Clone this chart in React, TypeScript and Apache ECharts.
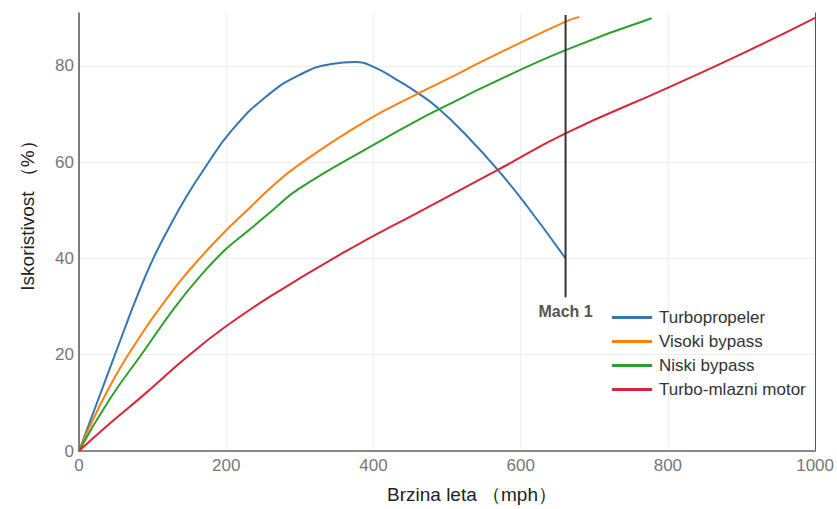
import React, { useEffect, useRef } from "react";
import * as echarts from "echarts";

// Speeds (mph) and efficiencies (%)
const SPEED_TURBOPROP = [0, 41, 64, 77, 100, 123, 145, 170, 208, 254, 299, 343, 375, 400, 434, 461, 488, 528, 569, 609, 661];
const EFF_TURBOPROP = [0, 16.8, 26.2, 31.4, 39.7, 46.6, 52.6, 58.6, 66.7, 73.6, 78.1, 80.4, 80.8, 79.8, 76.9, 74.3, 71.2, 65.3, 58.4, 50.8, 40];

const SPEED_HIGH_BYPASS = [0, 41, 86, 120, 145, 190, 231, 265, 299, 389, 461, 501, 551, 661, 680];
const EFF_HIGH_BYPASS = [0, 13.2, 24.5, 31.8, 36.7, 44.3, 50.4, 55.3, 59.5, 68.5, 74.3, 77.3, 81.2, 89.2, 90.2];

const SPEED_LOW_BYPASS = [0, 41, 86, 131, 168, 200, 231, 265, 299, 400, 461, 501, 551, 661, 778];
const EFF_LOW_BYPASS = [0, 10.6, 20.3, 30, 36.9, 42, 45.9, 50.3, 54.5, 63.6, 68.8, 71.9, 75.7, 83.3, 89.9];

const SPEED_TURBOJET = [0, 41, 86, 145, 197, 265, 366, 461, 569, 661, 799, 911, 1000];
const EFF_TURBOJET = [0, 5.6, 11.4, 19.3, 25.6, 32.6, 41.8, 49.6, 58.4, 66, 75.4, 83.3, 90];

const SERIES_NAMES = ["Turbopropeler", "Visoki bypass", "Niski bypass", "Turbo-mlazni motor"];
const SERIES_COLORS = ["#3277b4", "#ff7f0e", "#2ca02c", "#d62738"];

const MACH_SPEED = 661;
const MACH_EFF_RANGE = [32, 90.6];
const MACH_LABEL = "Mach 1";

const X_TITLE = "Brzina leta （mph）";
const Y_TITLE = "Iskoristivost （%）";

const pairs = (xs: number[], ys: number[]) => xs.map((x, i) => [x, ys[i]]);

const FONT = "'Liberation Sans', Arial, sans-serif";

export default function App() {
  const ref = useRef<HTMLDivElement>(null);

  useEffect(() => {
    const chart = echarts.init(ref.current!, null, { renderer: "svg" });
    const dataSets = [
      pairs(SPEED_TURBOPROP, EFF_TURBOPROP),
      pairs(SPEED_HIGH_BYPASS, EFF_HIGH_BYPASS),
      pairs(SPEED_LOW_BYPASS, EFF_LOW_BYPASS),
      pairs(SPEED_TURBOJET, EFF_TURBOJET),
    ];
    const lineSeries = dataSets.map((d, i) => ({
      name: SERIES_NAMES[i],
      type: "line",
      data: d,
      smooth: 0.5,
      symbol: "none",
      showSymbol: false,
      color: SERIES_COLORS[i],
      lineStyle: { color: SERIES_COLORS[i], width: 2 },
      z: 3,
    }));

    chart.setOption({
      animation: false,
      backgroundColor: "#ffffff",
      grid: { left: 79, right: 18, top: 13, bottom: 58, containLabel: false },
      legend: {
        data: SERIES_NAMES,
        orient: "vertical",
        left: 607,
        top: 304,
        icon: "rect",
        itemWidth: 40,
        itemHeight: 3,
        itemGap: 7,
        textStyle: { fontFamily: FONT, fontSize: 17, color: "#333", padding: [0, 0, 0, 2] },
      },
      xAxis: {
        type: "value",
        min: 0,
        max: 1000,
        interval: 200,
        axisLine: { show: true, onZero: false, lineStyle: { color: "#888", width: 2 } },
        axisTick: { show: false },
        axisLabel: {
          fontFamily: FONT,
          fontSize: 17,
          color: "#777",
          margin: 6,
          formatter: (v: number) => String(v),
        },
        splitLine: { show: true, lineStyle: { color: "#eeeeee", width: 1 } },
      },
      yAxis: [
        {
          type: "value",
          min: 0,
          max: 91,
          interval: 20,
          axisLine: { show: true, lineStyle: { color: "#555", width: 1.5 } },
          axisTick: { show: false },
          axisLabel: { fontFamily: FONT, fontSize: 17, color: "#777", margin: 5, showMaxLabel: false },
          splitLine: { show: true, showMaxLine: false, lineStyle: { color: "#eeeeee", width: 1 } },
        },
        {
          type: "value",
          position: "right",
          min: 0,
          max: 91,
          interval: 20,
          axisLine: { show: true, lineStyle: { color: "#555", width: 1 } },
          axisTick: { show: false },
          axisLabel: { show: false },
          splitLine: { show: false },
        },
      ],
      series: [
        ...lineSeries,
        {
          name: MACH_LABEL,
          type: "line",
          data: [
            {
              value: [MACH_SPEED, MACH_EFF_RANGE[0]],
              symbol: "circle",
              symbolSize: 1,
              label: {
                show: true,
                position: "bottom",
                distance: 6,
                formatter: MACH_LABEL,
                fontFamily: FONT,
                fontWeight: "bold",
                fontSize: 16,
                color: "#555",
              },
            },
            { value: [MACH_SPEED, MACH_EFF_RANGE[1]], symbol: "none" },
          ],
          showSymbol: true,
          symbolSize: 1,
          itemStyle: { color: "#333" },
          lineStyle: { color: "#333", width: 2 },
          z: 4,
        },
      ],
      graphic: [
        {
          type: "text",
          x: 472,
          y: 494,
          style: {
            text: X_TITLE,
            fontFamily: FONT,
            fontSize: 19,
            fill: "#222",
            textAlign: "center",
            textVerticalAlign: "middle",
          },
        },
        {
          type: "text",
          x: 27,
          y: 211,
          rotation: Math.PI / 2,
          style: {
            text: Y_TITLE,
            fontFamily: FONT,
            fontSize: 19,
            fill: "#222",
            textAlign: "center",
            textVerticalAlign: "middle",
          },
        },
      ],
    });

    return () => chart.dispose();
  }, []);

  return (
    <div
      ref={ref}
      style={{ position: "absolute", left: 0, top: 0, width: 837, height: 509, background: "#fff" }}
    />
  );
}
